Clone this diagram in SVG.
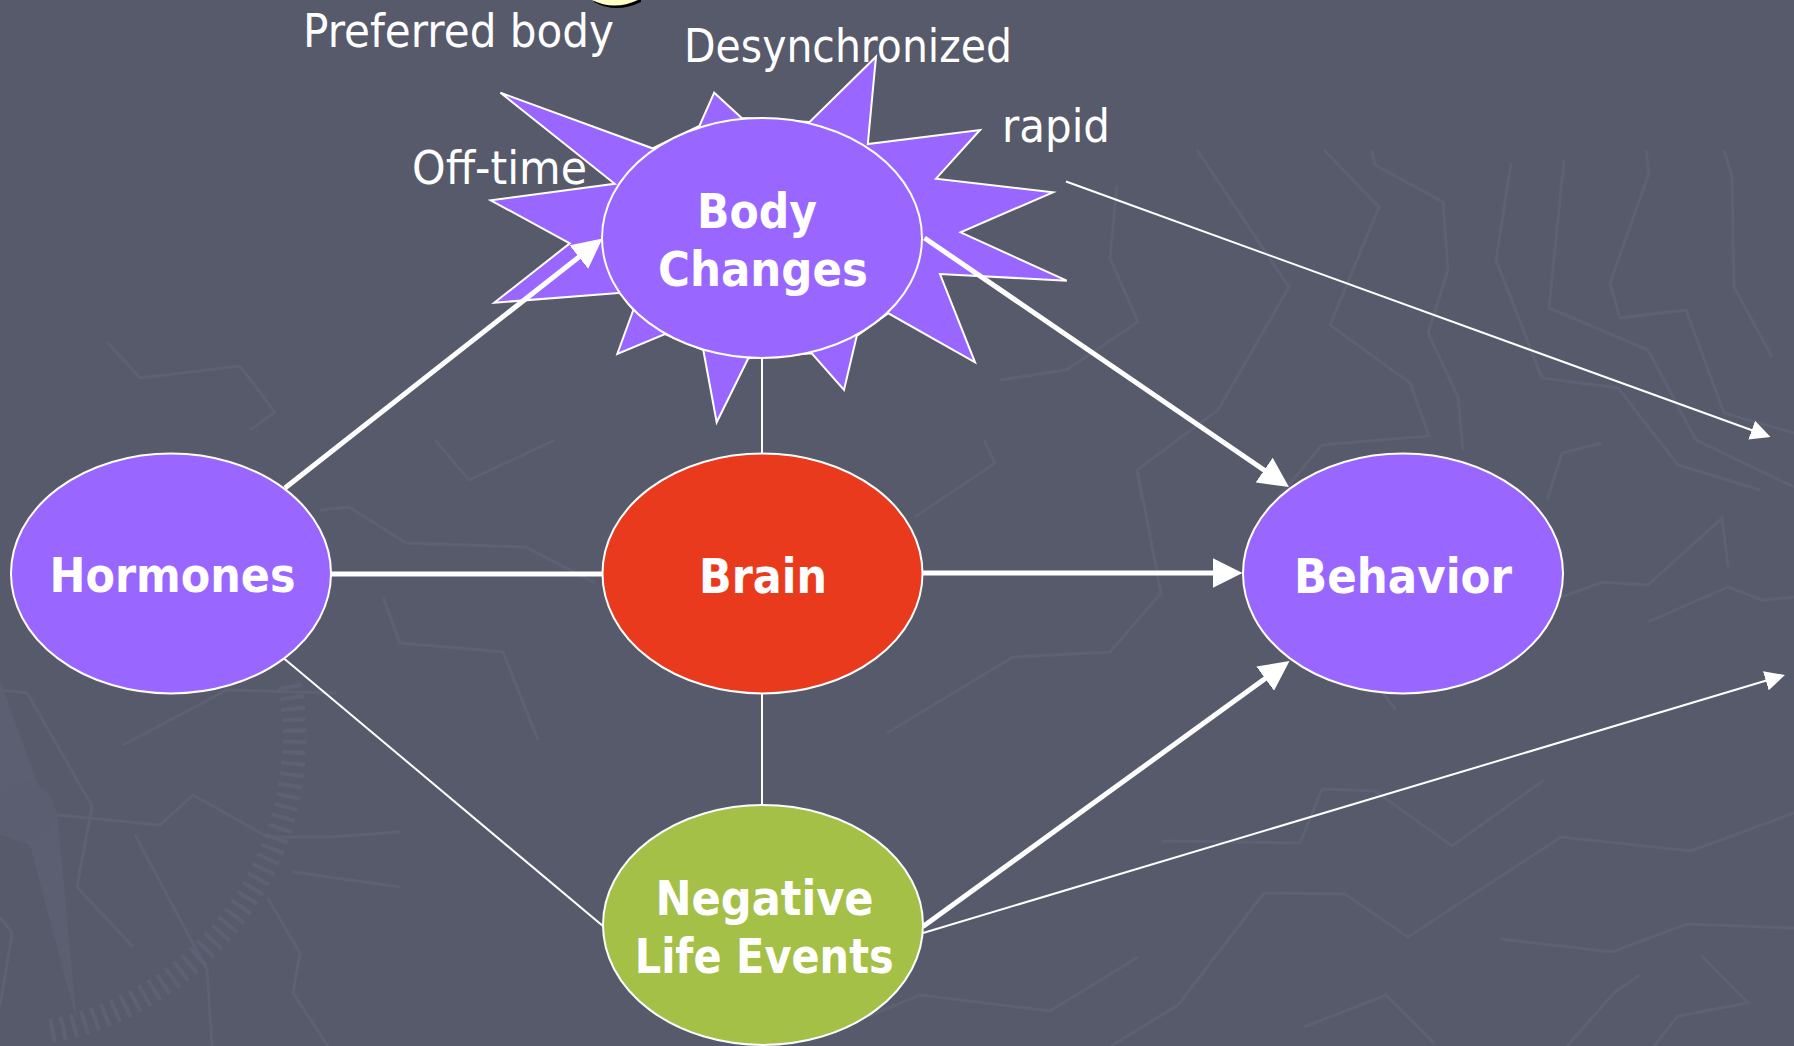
<svg xmlns="http://www.w3.org/2000/svg" width="1794" height="1046" viewBox="0 0 1794 1046">
  <defs>
    <style>
      .tex { fill: none; stroke: #5e6173; stroke-width: 3; stroke-linejoin: miter; }
      .node { stroke: #ffffff; stroke-width: 2; }
      .purple { fill: #9966ff; }
      .lbl { font-family: "DejaVu Sans", "Liberation Sans", sans-serif; font-size: 46px; fill: #ffffff; }
      .bold { font-family: "DejaVu Sans", "Liberation Sans", sans-serif; font-size: 48px; font-weight: bold; fill: #ffffff; text-anchor: middle; }
      .thick { stroke: #ffffff; stroke-width: 5; fill: none; }
      .thin { stroke: #ffffff; stroke-width: 2; fill: none; }
    </style>
    <marker id="arrowBig" markerUnits="userSpaceOnUse" viewBox="0 0 30 30" markerWidth="30" markerHeight="30" refX="20" refY="15" orient="auto">
      <path d="M0,0 L30,15 L0,30 Z" fill="#ffffff"/>
    </marker>
    <marker id="arrowSmall" markerUnits="userSpaceOnUse" viewBox="0 0 20 20" markerWidth="20" markerHeight="20" refX="12" refY="10" orient="auto">
      <path d="M0,0 L20,10 L0,20 Z" fill="#ffffff"/>
    </marker>
  </defs>

  <rect x="0" y="0" width="1794" height="1046" fill="#575a6a"/>

  <g id="background-texture">
    <polyline class="tex" points="1324,150 1379,207 1330,325 1410,383 1429,436 1322,445 1276,500 1300,560"/>
    <polyline class="tex" points="1372,150 1375,165 1443,202 1448,270 1428,333 1458,397 1463,450"/>
    <polyline class="tex" points="1511,163 1496,260 1542,378 1618,388 1678,465 1760,490"/>
    <polyline class="tex" points="1564,160 1549,308 1648,350 1696,440 1794,487"/>
    <polyline class="tex" points="1646,150 1649,173 1610,283 1620,318 1686,310 1724,413 1794,433"/>
    <polyline class="tex" points="1724,150 1732,177 1734,287 1772,357"/>
    <polyline class="tex" points="1117,185 1110,258 1138,322 1066,370 1000,380"/>
    <polyline class="tex" points="1197,150 1289,287 1218,410 1137,470 1142,500"/>
    <polyline class="tex" points="1602,443 1562,453 1547,500"/>
    <polyline class="tex" points="1138,473 1161,593 1110,652 1013,657 887,733"/>
    <polyline class="tex" points="1562,597 1602,582 1648,585 1722,518 1728,567"/>
    <polyline class="tex" points="1648,622 1728,587 1762,600 1794,597"/>
    <polyline class="tex" points="1327,667 1373,680 1396,710"/>
    <polyline class="tex" points="1264,893 1345,894 1408,937 1561,837 1691,851 1794,813"/>
    <polyline class="tex" points="1162,841 1300,843 1322,789 1375,791 1452,846 1544,780"/>
    <polyline class="tex" points="1138,957 1050,1011 920,995 859,1020"/>
    <polyline class="tex" points="1500,939 1612,952 1687,924 1794,928"/>
    <polyline class="tex" points="1304,1027 1386,995 1434,1043"/>
    <polyline class="tex" points="1701,955 1748,1003 1678,1016 1654,1046"/>
    <polyline class="tex" points="1640,975 1615,992 1567,1046"/>
    <polyline class="tex" points="1264,893 1178,1005 1111,1046"/>
    <polyline class="tex" points="320,510 349,507 406,543 526,547 595,583"/>
    <polyline class="tex" points="383,597 400,643 503,652 538,740"/>
    <polyline class="tex" points="435,440 469,480 555,440"/>
    <polyline class="tex" points="984,440 995,463 915,517"/>
    <polyline class="tex" points="108,343 140,378 240,366 275,412 250,430"/>
    <polyline class="tex" points="0,690 27,693 92,806 77,887 133,947"/>
    <polyline class="tex" points="58,815 160,825 193,795 268,837 328,837 400,832"/>
    <polyline class="tex" points="135,835 207,970 212,1046"/>
    <polyline class="tex" points="267,897 300,953 293,993 328,1046"/>
    <polyline class="tex" points="293,872 400,887"/>
    <polyline class="tex" points="123,745 227,690 336,693"/>
    <polyline class="tex" points="0,917 12,933 0,1006"/>
    <polygon points="0,680 40,790 57,812 77,1023 30,845 0,835" fill="#5c5f71"/>
    <circle cx="25" cy="812" r="30" fill="#5b5e70"/>
    <path d="M 290,685 A 300,300 0 0 1 45,1032" fill="none" stroke="#5e6174" stroke-width="24" stroke-dasharray="4 7"/>
  </g>

  <g id="title-fragment">
    <path d="M594,2 Q616,14 641,2 L641,0 L594,0 Z" fill="#000000"/>
    <path d="M592,0 Q614,11 638,0 Z" fill="#ffffc8"/>
  </g>

  <g id="body-changes-star">
    <polygon class="node purple" points="500.4,92.7 652.4,148.3 699.4,126 714.2,92.7 741.7,118 809.6,122 876,56.7 867.8,144 980,130 936,178.7 1053,192.3 960.6,232.3 1066.7,280.7 940,274 975,362.3 888.3,313.3 856.7,336 844,390 811.7,353.3 748.3,358.3 716.7,422.3 703.3,350 665,334 617.3,354 633.3,310 621.7,292.7 494.3,302.7 569.8,243.3 490.7,200.3 614.7,183.7"/>
  </g>

  <g id="connectors">
    <line class="thick" x1="285" y1="488" x2="594.6" y2="244.7" marker-end="url(#arrowBig)"/>
    <line class="thick" x1="924.5" y1="238" x2="1280.7" y2="481.4" marker-end="url(#arrowBig)"/>
    <line class="thick" x1="922" y1="573" x2="1232.5" y2="573" marker-end="url(#arrowBig)"/>
    <line class="thick" x1="923" y1="926.5" x2="1281.4" y2="666.9" marker-end="url(#arrowBig)"/>
    <line class="thick" x1="330" y1="574" x2="603" y2="574"/>
    <line class="thin" x1="1066" y1="181.5" x2="1763" y2="434.3" marker-end="url(#arrowSmall)"/>
    <line class="thin" x1="923" y1="933" x2="1777.3" y2="677.3" marker-end="url(#arrowSmall)"/>
    <line class="thin" x1="284" y1="658.5" x2="603.5" y2="926.5"/>
    <line class="thin" x1="762" y1="357" x2="762" y2="454"/>
    <line class="thin" x1="762" y1="692" x2="762" y2="806"/>
  </g>

  <g id="node-body-changes">
    <ellipse class="node purple" cx="762" cy="238" rx="160" ry="120"/>
    <text class="bold" x="757" y="227.7" textLength="120" lengthAdjust="spacingAndGlyphs">Body</text>
    <text class="bold" x="763" y="286" textLength="210" lengthAdjust="spacingAndGlyphs">Changes</text>
  </g>

  <g id="node-hormones">
    <ellipse class="node purple" cx="171" cy="573.5" rx="160" ry="120"/>
    <text class="bold" x="172.5" y="592" textLength="246" lengthAdjust="spacingAndGlyphs">Hormones</text>
  </g>

  <g id="node-brain">
    <ellipse class="node" fill="#ea3a1e" cx="762.5" cy="573.5" rx="160" ry="120"/>
    <text class="bold" x="763" y="592.7" textLength="128" lengthAdjust="spacingAndGlyphs">Brain</text>
  </g>

  <g id="node-behavior">
    <ellipse class="node purple" cx="1403" cy="573.5" rx="160" ry="120"/>
    <text class="bold" x="1403" y="592.7" textLength="218" lengthAdjust="spacingAndGlyphs">Behavior</text>
  </g>

  <g id="node-negative-life-events">
    <ellipse class="node" fill="#a5c046" cx="763" cy="925" rx="160" ry="120"/>
    <text class="bold" x="764.5" y="915" textLength="218" lengthAdjust="spacingAndGlyphs">Negative</text>
    <text class="bold" x="764.2" y="973.3" textLength="259" lengthAdjust="spacingAndGlyphs">Life Events</text>
  </g>

  <g id="labels">
    <text class="lbl" x="303" y="46.7" textLength="311" lengthAdjust="spacingAndGlyphs">Preferred body</text>
    <text class="lbl" x="684" y="61.7" textLength="328" lengthAdjust="spacingAndGlyphs">Desynchronized</text>
    <text class="lbl" x="1002" y="141.7" textLength="108" lengthAdjust="spacingAndGlyphs">rapid</text>
    <text class="lbl" x="412" y="184.3" textLength="175" lengthAdjust="spacingAndGlyphs">Off-time</text>
  </g>
</svg>
